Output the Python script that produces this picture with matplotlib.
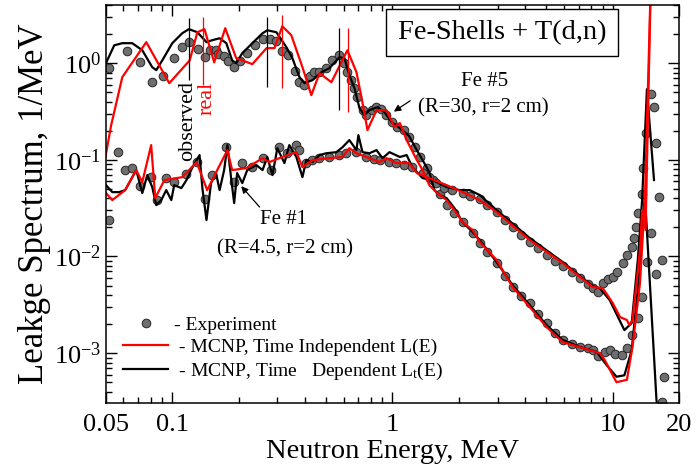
import matplotlib
matplotlib.use("Agg")
import matplotlib.pyplot as plt

plt.rcParams["font.family"] = ["Liberation Serif", "DejaVu Serif"]
plt.rcParams["mathtext.fontset"] = "custom"
plt.rcParams["mathtext.rm"] = "Liberation Serif"
plt.rcParams["mathtext.it"] = "Liberation Serif:italic"

# ---- experiment, Fe #5 (R=30 cm)
exp5_e = [0.0517, 0.0624, 0.0716, 0.0811, 0.0909, 0.102, 0.111, 0.119, 0.131, 0.141,
          0.149, 0.158, 0.162, 0.171, 0.180, 0.191, 0.204, 0.219, 0.238, 0.257,
          0.279, 0.297, 0.316, 0.337, 0.359, 0.378, 0.398, 0.420, 0.442, 0.466,
          0.501, 0.534, 0.574, 0.605, 0.624, 0.651, 0.672, 0.693, 0.731, 0.762,
          0.803, 0.846, 0.891, 0.939, 0.99, 1.05, 1.13, 1.19, 1.26, 1.33,
          1.43, 1.52, 1.64, 1.76, 1.91, 2.08, 2.31, 2.49, 2.70, 2.97,
          3.23, 3.51, 3.82, 4.2, 4.56, 5.01, 5.45, 5.93, 6.51, 7.08,
          7.69, 8.11, 8.55, 9.2, 9.69, 10.2, 11.0, 11.6, 12.2, 13.0,
          13.6, 14.3, 15.0, 15.8, 16.7]
exp5_v = [0.888, 1.33, 1.02, 0.636, 0.734, 1.13, 1.46, 1.65, 1.40, 1.15,
          1.36, 1.36, 1.24, 1.18, 1.05, 0.909, 1.05, 1.27, 1.53, 1.77,
          1.77, 1.69, 1.33, 1.21, 0.827, 0.636, 0.592, 0.734, 0.807, 0.807,
          0.888, 1.07, 1.21, 1.0, 0.807, 0.667, 0.551, 0.445, 0.327, 0.290,
          0.327, 0.351, 0.334, 0.290, 0.245, 0.218, 0.203, 0.172, 0.135, 0.107,
          0.0821, 0.0617, 0.0442, 0.034, 0.0281, 0.0227, 0.0175, 0.0138, 0.0111, 0.00855,
          0.00627, 0.00483, 0.00389, 0.0033, 0.00254, 0.00205, 0.00161, 0.00137, 0.00124, 0.00116,
          0.00113, 0.00108, 0.00093, 0.00103, 0.00108, 0.00098, 0.00096, 0.00113, 0.00154, 0.00231,
          0.0038, 0.00875, 0.0175, 0.0066, 0.00031]

# ---- experiment, Fe #1 (R=4.5 cm)
exp1_e = [0.0517, 0.0568, 0.0611, 0.0658, 0.0716, 0.0802, 0.0855, 0.0939, 0.102, 0.116,
          0.129, 0.141, 0.152, 0.176, 0.191, 0.208, 0.231, 0.257, 0.282, 0.306,
          0.333, 0.366, 0.378, 0.406, 0.433, 0.466, 0.517, 0.574, 0.618, 0.686,
          0.762, 0.828, 0.873, 0.969, 1.04, 1.13, 1.23, 1.37, 1.47, 1.58,
          1.72, 1.87, 2.08, 2.24, 2.49, 2.70, 2.97, 3.23, 3.51, 3.82,
          4.2, 4.56, 5.01, 5.45, 5.93, 6.51, 7.08, 7.69, 8.11, 8.55,
          9.01, 9.49, 10.0, 10.5, 11.1, 11.6, 12.2, 12.5, 12.7, 13.0,
          13.6, 13.7, 14.1, 14.9, 15.4, 15.8, 16.2, 16.7, 17.1]
exp1_v = [0.0238, 0.120, 0.0783, 0.0821, 0.0535, 0.0662, 0.0383, 0.0647, 0.0588, 0.0711,
          0.0947, 0.0393, 0.0695, 0.135, 0.0588, 0.0925, 0.0841, 0.104, 0.0783, 0.135,
          0.117, 0.142, 0.126, 0.0925, 0.0993, 0.104, 0.107, 0.112, 0.117, 0.120,
          0.107, 0.102, 0.0993, 0.0947, 0.0925, 0.0882, 0.0841, 0.0729, 0.0662, 0.0574,
          0.051, 0.0486, 0.0453, 0.0421, 0.0393, 0.034, 0.0288, 0.0238, 0.0201, 0.0167,
          0.0141, 0.0122, 0.0103, 0.00896, 0.00796, 0.0069, 0.00598, 0.00519, 0.00471, 0.00428,
          0.00531, 0.00583, 0.00612, 0.0069, 0.00855, 0.0103, 0.0125, 0.0155, 0.0201, 0.0281,
          0.0442, 0.0821, 0.189, 0.478, 0.351, 0.149, 0.0411, 0.0092, 0.00057]

# ---- MCNP time independent L(E), Fe #5
ti5_e = [0.0496, 0.0528, 0.0593, 0.0762, 0.0969, 0.120, 0.130, 0.140, 0.155, 0.174,
         0.195, 0.231, 0.268, 0.291, 0.316, 0.347, 0.390, 0.428, 0.466, 0.528,
         0.624, 0.686, 0.723, 0.770, 0.846, 0.939, 1.02, 1.08, 1.16, 1.29,
         1.37, 1.47, 1.58, 1.76, 1.91, 2.08, 2.31, 2.49, 2.97, 3.51,
         4.2, 5.01, 5.93, 7.31, 8.73, 9.2, 10.4, 11.6, 12.3, 13.3,
         14.0, 14.9]
ti5_v = [0.104, 0.229, 0.717, 1.65, 0.621, 1.07, 2.09, 2.25, 1.02, 2.30,
         1.13, 0.977, 1.43, 1.43, 2.41, 1.95, 0.909, 0.467, 0.788, 0.636,
         1.36, 0.807, 0.445, 0.203, 0.327, 0.327, 0.218, 0.24, 0.160, 0.0993,
         0.0783, 0.0547, 0.0463, 0.0383, 0.0302, 0.0227, 0.0188, 0.0141, 0.0092, 0.00483,
         0.003, 0.00186, 0.0013, 0.00113, 0.001, 0.00085, 0.0005, 0.00053, 0.00116, 0.00531,
         0.0383, 7.2]

# ---- MCNP time dependent Lt(E), Fe #5
td5_e = [0.050, 0.0545, 0.0593, 0.0658, 0.0731, 0.0811, 0.0846, 0.0901, 0.100, 0.111,
         0.119, 0.130, 0.143, 0.152, 0.164, 0.176, 0.187, 0.195, 0.208, 0.231,
         0.257, 0.270, 0.297, 0.330, 0.351, 0.378, 0.398, 0.433, 0.476, 0.517,
         0.574, 0.605, 0.637, 0.672, 0.708, 0.746, 0.786, 0.855, 0.920, 0.99,
         1.08, 1.19, 1.29, 1.37, 1.47, 1.55, 1.64, 1.76, 1.91, 2.08,
         2.31, 2.49, 2.97, 3.51, 4.2, 5.01, 5.93, 7.08, 8.46, 9.39,
         10.4, 11.3, 12.2, 13.3, 14.0, 15.8, 16.4]
td5_v = [1.0, 1.53, 1.61, 1.61, 1.36, 0.909, 0.847, 1.07, 1.61, 2.04,
         2.25, 2.09, 1.65, 1.73, 1.81, 1.61, 1.07, 1.0, 1.27, 1.61,
         2.04, 2.19, 2.09, 1.46, 1.13, 0.717, 0.621, 0.667, 0.807, 0.888,
         1.15, 1.13, 0.752, 0.551, 0.343, 0.290, 0.327, 0.351, 0.311, 0.245,
         0.213, 0.176, 0.126, 0.0993, 0.0746, 0.0486, 0.0432, 0.0402, 0.0317, 0.0227,
         0.0179, 0.0148, 0.00875, 0.00506, 0.00314, 0.00195, 0.00137, 0.00116, 0.00103, 0.00075,
         0.00057, 0.00059, 0.00108, 0.00777, 0.0432, 0.00033, 0.00016]

# ---- MCNP time independent L(E), Fe #1
ti1_e = [0.050, 0.0534, 0.0611, 0.0686, 0.0731, 0.0802, 0.0837, 0.0921, 0.111, 0.129,
         0.144, 0.160, 0.178, 0.187, 0.217, 0.257, 0.276, 0.316, 0.366, 0.390,
         0.433, 0.517, 0.593, 0.637, 0.686, 0.762, 0.873, 0.939, 1.04, 1.19,
         1.29, 1.47, 1.76, 2.08, 2.49, 2.97, 4.2, 5.93, 8.11, 9.01,
         10.0, 10.8, 11.6, 11.9, 12.3, 13.3, 13.6, 14.1, 14.9]
ti1_v = [0.0453, 0.0383, 0.0486, 0.0783, 0.0588, 0.142, 0.0402, 0.0617, 0.0662, 0.0947,
         0.0486, 0.0783, 0.126, 0.0783, 0.0821, 0.104, 0.0947, 0.107, 0.120, 0.0841,
         0.0993, 0.104, 0.107, 0.132, 0.117, 0.107, 0.0947, 0.104, 0.0925, 0.0925,
         0.0729, 0.0647, 0.0547, 0.0463, 0.0383, 0.0288, 0.0148, 0.00855, 0.00483, 0.00471,
         0.0033, 0.00236, 0.0022, 0.00195, 0.0022, 0.0116, 0.0302, 0.0188, 7.2]

# ---- MCNP time dependent Lt(E), Fe #1
td1_e = [0.050, 0.0534, 0.0574, 0.0611, 0.0686, 0.0731, 0.0770, 0.0811, 0.0846, 0.0891,
         0.0939, 0.099, 0.102, 0.110, 0.116, 0.123, 0.133, 0.137, 0.143, 0.150,
         0.158, 0.164, 0.172, 0.178, 0.185, 0.191, 0.197, 0.208, 0.219, 0.241,
         0.257, 0.270, 0.285, 0.300, 0.323, 0.340, 0.366, 0.390, 0.406, 0.433,
         0.466, 0.501, 0.556, 0.593, 0.637, 0.686, 0.700, 0.731, 0.786, 0.846,
         0.901, 0.969, 1.08, 1.16, 1.23, 1.37, 1.52, 1.76, 2.02, 2.24,
         2.49, 2.97, 4.2, 5.93, 8.11, 8.73, 9.69, 11.3, 12.2, 13.0,
         13.6, 14.3, 15.4]
td1_v = [0.0547, 0.0463, 0.0463, 0.0486, 0.0783, 0.0453, 0.0695, 0.0522, 0.034, 0.0383,
         0.0486, 0.0383, 0.0547, 0.051, 0.0617, 0.0821, 0.112, 0.051, 0.0238, 0.0574,
         0.0729, 0.0486, 0.0783, 0.142, 0.0647, 0.0357, 0.0729, 0.0574, 0.0783, 0.0882,
         0.0783, 0.107, 0.0695, 0.132, 0.0925, 0.142, 0.107, 0.0662, 0.0993, 0.0947,
         0.112, 0.117, 0.120, 0.135, 0.160, 0.126, 0.180, 0.120, 0.117, 0.126,
         0.104, 0.120, 0.107, 0.112, 0.0841, 0.0647, 0.0617, 0.0522, 0.0486, 0.0486,
         0.0432, 0.0302, 0.0155, 0.00875, 0.00494, 0.00471, 0.00354, 0.00173, 0.00205, 0.0092,
         0.0383, 0.538, 0.0617]

# peak markers: observed vs real energies (MeV) and their vertical extents
obs_e = [0.119, 0.270, 0.574]
obs_lo = [0.667, 0.565, 0.327]
obs_hi = [2.92, 2.99, 2.30]
real_e = [0.138, 0.316, 0.631]
real_lo = [0.592, 0.552, 0.311]
real_hi = [2.99, 3.14, 2.30]

fig = plt.figure(figsize=(7, 4.7), dpi=100)
ax = fig.add_axes([0.1514, 0.1426, 0.8186, 0.8468])

circ = dict(ls="none", marker="o", ms=6.2, mfc="#6e6e6e", mec="#262626", mew=0.7)
ax.plot(exp5_e, exp5_v, **circ)
pe, = ax.plot(exp1_e, exp1_v, **circ)
pb, = ax.plot(td5_e, td5_v, color="black", lw=1.6)
ax.plot(td1_e, td1_v, color="black", lw=1.6)
pr, = ax.plot(ti5_e, ti5_v, color="red", lw=1.6)
ax.plot(ti1_e, ti1_v, color="red", lw=1.6)

ax.vlines(obs_e, obs_lo, obs_hi, color="black", lw=0.9)
ax.vlines(real_e, real_lo, real_hi, color="red", lw=0.9)

ax.set_xscale("log")
ax.set_yscale("log")
ax.set_xlim(0.05, 20)
ax.set_ylim(3.05e-4, 4.0)
ax.set_xticks([0.05, 0.1, 1, 10, 20])
ax.set_xticklabels(["0.05", "0.1", "1", "10", "20"])
ax.tick_params(which="both", direction="in", top=True, right=True, labelsize=19, width=1)
ax.tick_params(which="major", length=8)
ax.tick_params(which="minor", length=4)
ax.tick_params(axis="x", pad=8)
for s in ax.spines.values():
    s.set_linewidth(1.1)

ax.set_xlabel("Neutron Energy, MeV", fontsize=20.5, labelpad=2)
ax.set_ylabel("Leakge Spectrum, 1/MeV", fontsize=25, labelpad=2)

ax.text(0.691, 0.931, "Fe-Shells + T(d,n)", transform=ax.transAxes, fontsize=20.5,
        ha="center", va="center",
        bbox=dict(boxstyle="square,pad=0.4", fc="white", ec="black", lw=1))

ax.text(0.143, 0.709, "observed", transform=ax.transAxes, rotation=90, fontsize=16,
        ha="center", va="center", color="black")
ax.text(0.176, 0.766, "real", transform=ax.transAxes, rotation=90, fontsize=16,
        ha="center", va="center", color="red")

ax.text(2.62, 0.64, "Fe #5", fontsize=15, ha="center", va="center")
ax.text(2.59, 0.343, "(R=30, r=2 cm)", fontsize=15, ha="center", va="center")
ax.annotate("", xy=(0.99, 0.304), xytext=(1.233, 0.424),
            arrowprops=dict(arrowstyle="-|>", color="black", lw=0.9, mutation_scale=10))
ax.text(0.320, 0.0244, "Fe #1", fontsize=15, ha="center", va="center")
ax.text(0.326, 0.0119, "(R=4.5, r=2 cm)", fontsize=15, ha="center", va="center")
ax.annotate("", xy=(0.2017, 0.0561), xytext=(0.254, 0.0309),
            arrowprops=dict(arrowstyle="-|>", color="black", lw=0.9, mutation_scale=10))

ax.legend([pe, pr, pb],
          ["- Experiment", " - MCNP, Time Independent L(E)",
           " - MCNP, Time   Dependent L$_{\\rm t}$(E)"],
          loc="upper left", bbox_to_anchor=(0.03, 0.217), frameon=False,
          fontsize=14, numpoints=1, handlelength=2.3, handletextpad=0.3,
          labelspacing=0.22, borderpad=0, borderaxespad=0)

fig.savefig("out.png", dpi=100, facecolor="white")
